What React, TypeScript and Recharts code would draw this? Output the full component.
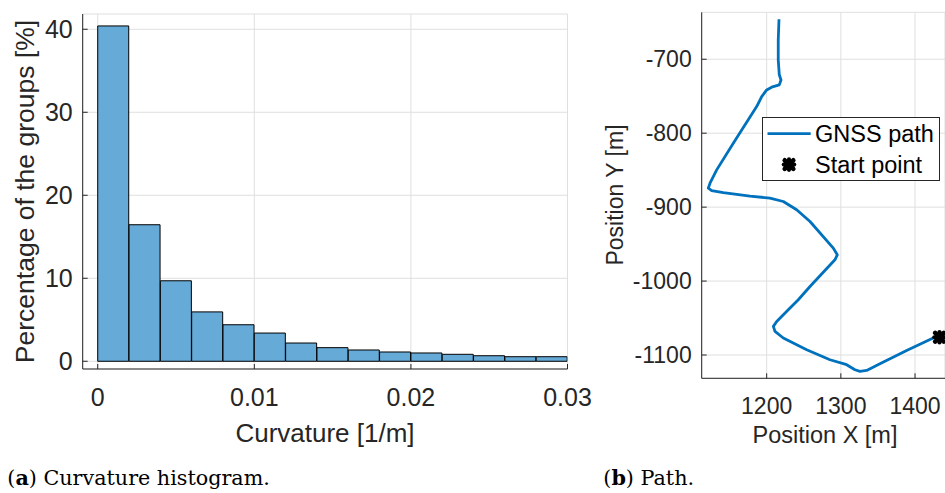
import React from 'react';
import { ComposedChart, Bar, XAxis, YAxis, CartesianGrid, Line, Scatter, Legend } from 'recharts';

// ---------- Data: curvature histogram ----------
const binCenters = [0.001, 0.003, 0.005, 0.007, 0.009, 0.011, 0.013, 0.015, 0.017, 0.019, 0.021, 0.023, 0.025, 0.027, 0.029];
const binPercent = [40.4, 16.45, 9.7, 5.95, 4.4, 3.4, 2.2, 1.64, 1.36, 1.12, 1.0, 0.84, 0.67, 0.55, 0.55];
const histXTicks = [0, 0.01, 0.02, 0.03];
const histYTicks = [0, 10, 20, 30, 40];

// ---------- Data: GNSS path ----------
const pathX = [1216.6, 1215.6, 1215.6, 1217, 1219.3, 1217, 1206.7, 1200, 1193.3, 1186.5, 1155, 1132.6, 1123.6, 1121.3, 1125.9, 1141.5, 1177.5, 1204.4, 1222.4, 1240.4, 1258.4, 1289.8, 1295.2, 1292, 1258.4, 1242.6, 1229.1, 1213.5, 1209, 1211.2, 1222.4, 1253.9, 1285.3, 1307.8, 1319, 1325.7, 1334.8, 1352.7, 1388.7, 1424.5, 1433];
const pathY = [-646, -674, -701, -721, -728, -734.7, -737.8, -741.5, -750.5, -764, -813.5, -849.6, -867.6, -874.3, -877.6, -880.3, -885, -887.8, -892.4, -903.6, -919.5, -955.4, -964.5, -971.2, -1007.3, -1025.3, -1038.8, -1054.6, -1061.3, -1068.1, -1077, -1092.8, -1106.4, -1113.1, -1119.9, -1122.2, -1120.8, -1111.8, -1093.8, -1077, -1074];
const startX = [1433];
const startY = [-1076];
const pathXTicks = [1200, 1300, 1400];
const pathYTicks = [-1100, -1000, -900, -800, -700];

const histData = binCenters.map((c, i) => ({ x: c, pct: binPercent[i] }));
const pathData = pathX.map((x, i) => ({ x, y: pathY[i] }));
const startData = startX.map((x, i) => ({ x, y: startY[i] }));

const AXIS = '#262626';
const GRID = '#dfdfdf';
const BLUE = '#0072BD';
const SANS = '"Liberation Sans", Arial, Helvetica, sans-serif';
const SERIF = '"DejaVu Serif", serif';

const StartMarker = ({ cx, cy }: { cx?: number; cy?: number }) => {
  if (cx == null || cy == null) return <g />;
  return (
    <g>
      <line x1={cx - 4.3} y1={cy - 4.3} x2={cx + 4.3} y2={cy + 4.3} stroke="#000" strokeWidth={4.6} strokeLinecap="round" />
      <line x1={cx - 4.3} y1={cy + 4.3} x2={cx + 4.3} y2={cy - 4.3} stroke="#000" strokeWidth={4.6} strokeLinecap="round" />
      <line x1={cx - 5.2} y1={cy} x2={cx + 5.2} y2={cy} stroke="#000" strokeWidth={4.2} strokeLinecap="round" />
      <line x1={cx} y1={cy - 5.2} x2={cx} y2={cy + 5.2} stroke="#000" strokeWidth={4.2} strokeLinecap="round" />
    </g>
  );
};

const legendContent = () => (
  <svg width={178} height={64} style={{ display: 'block' }}>
    <rect x={0.5} y={0.5} width={177} height={63} fill="#fff" stroke={AXIS} strokeWidth={1} />
    <line x1={5.5} y1={16.6} x2={48.7} y2={16.6} stroke={BLUE} strokeWidth={2.6} />
    <text x={53} y={25.3} fontFamily={SANS} fontSize={23.5} fill="#000">GNSS path</text>
    <StartMarker cx={27} cy={47.6} />
    <text x={53} y={56} fontFamily={SANS} fontSize={23.5} fill="#000">Start point</text>
  </svg>
);

export default function App() {
  return (
    <div style={{ position: 'absolute', left: 0, top: 0, width: 945, height: 493, background: '#fff', overflow: 'hidden', fontFamily: SANS }}>
      {/* Left: histogram */}
      <div style={{ position: 'absolute', left: 0, top: 0 }}>
        <ComposedChart width={600} height={493} data={histData} margin={{ top: 14, right: 32.5, bottom: 64, left: 22.7 }} barCategoryGap={0} barGap={0}>
          <CartesianGrid stroke={GRID} strokeWidth={1} />
          <XAxis
            dataKey="x"
            type="number"
            domain={[-0.00096, 0.03]}
            ticks={histXTicks}
            allowDataOverflow
            height={60}
            stroke={AXIS}
            tickSize={-5}
            tickMargin={24}
            tick={{ fill: AXIS, fontSize: 25, fontFamily: SANS }}
            interval={0}
          />
          <XAxis xAxisId="top" orientation="top" type="number" domain={[-0.00096, 0.03]} ticks={histXTicks} allowDataOverflow height={0} stroke={AXIS} tickSize={-5} tick={false} />
          <YAxis
            type="number"
            domain={[-0.93, 41.84]}
            ticks={histYTicks}
            allowDataOverflow
            width={60}
            stroke={AXIS}
            tickSize={-5}
            tickMargin={15}
            tick={{ fill: AXIS, fontSize: 25, fontFamily: SANS }}
            interval={0}
          />
          <YAxis yAxisId="right" orientation="right" type="number" domain={[-0.93, 41.84]} ticks={histYTicks} allowDataOverflow width={0} stroke={AXIS} tickSize={-5} tick={false} />
          <Bar dataKey="pct" fill="#66AAD7" stroke="#000" strokeWidth={1} isAnimationActive={false} />
        </ComposedChart>
      </div>

      {/* Right: GNSS path */}
      <div style={{ position: 'absolute', left: 590, top: 0 }}>
        <ComposedChart width={355} height={493} margin={{ top: 12.3, right: 0, bottom: 54.7, left: 51.7 }}>
          <CartesianGrid stroke={GRID} strokeWidth={1} />
          <XAxis
            dataKey="x"
            type="number"
            domain={[1112.4, 1440.4]}
            ticks={pathXTicks}
            allowDataOverflow
            height={60}
            stroke={AXIS}
            tickSize={-5}
            tickMargin={24}
            tick={{ fill: AXIS, fontSize: 23, fontFamily: SANS }}
            interval={0}
          />
          <XAxis xAxisId="top" orientation="top" type="number" domain={[1112.4, 1440.4]} ticks={pathXTicks} allowDataOverflow height={0} stroke={AXIS} tickSize={-5} tick={false} />
          <YAxis
            dataKey="y"
            type="number"
            domain={[-1131.5, -636.5]}
            ticks={pathYTicks}
            allowDataOverflow
            width={60}
            stroke={AXIS}
            tickSize={-5}
            tickMargin={15}
            tick={{ fill: AXIS, fontSize: 23, fontFamily: SANS }}
            interval={0}
          />
          <Line data={pathData} dataKey="y" type="linear" stroke={BLUE} strokeWidth={2.8} dot={false} isAnimationActive={false} strokeLinejoin="round" />
          <Scatter data={startData} dataKey="y" shape={(p: any) => <StartMarker cx={p.cx} cy={p.cy} />} isAnimationActive={false} />
          <Legend
            layout="vertical"
            align="center"
            verticalAlign="middle"
            content={legendContent}
            wrapperStyle={{ left: 172.3, top: 116.7, width: 178, height: 64 }}
          />
        </ComposedChart>
      </div>

      {/* Axis titles and captions */}
      <svg width={945} height={493} style={{ position: 'absolute', left: 0, top: 0, pointerEvents: 'none' }}>
        <text x={33.5} y={191.5} transform="rotate(-90 33.5 191.5)" textAnchor="middle" fontFamily={SANS} fontSize={26.5} fill={AXIS}>Percentage of the groups [%]</text>
        <text x={325} y={441.5} textAnchor="middle" fontFamily={SANS} fontSize={26} fill={AXIS}>Curvature [1/m]</text>
        <text x={622.5} y={195} transform="rotate(-90 622.5 195)" textAnchor="middle" fontFamily={SANS} fontSize={23} fill={AXIS}>Position Y [m]</text>
        <text x={825} y={443.3} textAnchor="middle" fontFamily={SANS} fontSize={23.5} fill={AXIS}>Position X [m]</text>
        <text x={7.3} y={484.5} fontFamily={SERIF} fontSize={20.7} fill="#000">(<tspan fontWeight="bold">a</tspan>) Curvature histogram.</text>
        <text x={603.3} y={484.5} fontFamily={SERIF} fontSize={20.7} fill="#000">(<tspan fontWeight="bold">b</tspan>) Path.</text>
      </svg>
    </div>
  );
}
